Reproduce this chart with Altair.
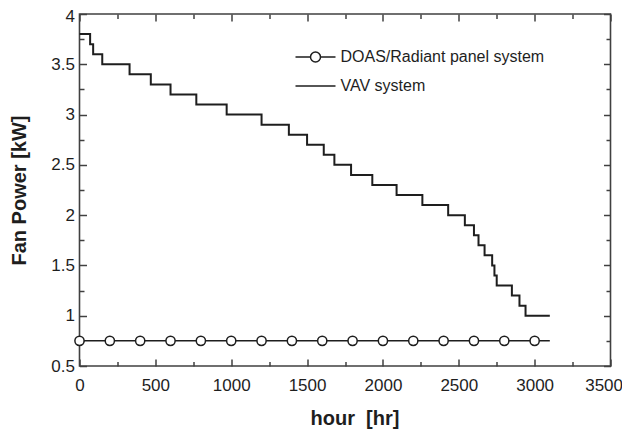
import altair as alt
import pandas as pd

# ---- data ----
vav_hours = [0, 70, 90, 150, 330, 470, 600, 770, 970, 1200, 1380, 1500, 1610, 1680,
             1790, 1930, 2090, 2260, 2430, 2540, 2600, 2630, 2670, 2720, 2735, 2750,
             2850, 2900, 2940, 3100]
vav_power = [3.8, 3.7, 3.6, 3.5, 3.4, 3.3, 3.2, 3.1, 3.0, 2.9, 2.8, 2.7, 2.6, 2.5,
             2.4, 2.3, 2.2, 2.1, 2.0, 1.9, 1.8, 1.7, 1.6, 1.5, 1.4, 1.3,
             1.2, 1.1, 1.0, 1.0]

doas_line_hours = [0, 3100]
doas_line_power = [0.75, 0.75]
doas_marker_hours = [0, 200, 400, 600, 800, 1000, 1200, 1400, 1600, 1800,
                     2000, 2200, 2400, 2600, 2800, 3000]
doas_marker_power = [0.75, 0.75, 0.75, 0.75, 0.75, 0.75, 0.75, 0.75, 0.75, 0.75,
                     0.75, 0.75, 0.75, 0.75, 0.75, 0.75]

series_names = ["DOAS/Radiant panel system", "VAV system"]

x_major = [0, 500, 1000, 1500, 2000, 2500, 3000, 3500]
x_minor = [250, 750, 1250, 1750, 2250, 2750, 3250]
y_major = [0.5, 1, 1.5, 2, 2.5, 3, 3.5, 4]
y_minor = [0.75, 1.25, 1.75, 2.25, 2.75, 3.25, 3.75]

x_title = "hour \u00a0[hr]"
y_title = "Fan Power [kW]"

vav_df = pd.DataFrame({"hour": vav_hours, "power": vav_power})
doas_line_df = pd.DataFrame({"hour": doas_line_hours, "power": doas_line_power})
doas_pts_df = pd.DataFrame({"hour": doas_marker_hours, "power": doas_marker_power})
legend_df = pd.DataFrame({"hour": doas_line_hours, "power": doas_line_power,
                          "series": series_names})

FONT = "Liberation Sans"
INK = "#1e1e1e"
FRAME = "#404040"
MAJ = 7
MIN = 4.5

xscale = alt.Scale(domain=[0, 3500], nice=False, zero=False)
yscale = alt.Scale(domain=[0.5, 4], nice=False, zero=False)


def tick_axis(orient, values, size, **kw):
    return alt.Axis(orient=orient, values=values, tickSize=size, offset=-size,
                    domain=False, grid=False, tickColor=FRAME, tickWidth=1.5,
                    **kw)


last_x = "datum.value == 3500"
top_y = "datum.value == 4"
bottom_major = tick_axis("bottom", x_major, MAJ, format="d", labelFont=FONT,
                         labelFontSize=17, labelColor=INK, labelPadding=11,
                         labelFlush=False, labelOverlap=False,
                         labelAlign={"condition": {"test": last_x, "value": "right"},
                                     "value": "center"},
                         labelOffset={"condition": {"test": last_x, "value": 12},
                                      "value": 0},
                         title=x_title, titleFont=FONT, titleFontSize=20,
                         titleFontWeight="bold", titleColor=INK,
                         titlePadding=15, titleX=275)
left_major = tick_axis("left", y_major, MAJ, format="~g", labelFont=FONT,
                       labelFontSize=17, labelColor=INK, labelPadding=5,
                       labelFlush=False, labelOverlap=False,
                       labelOffset={"condition": {"test": top_y, "value": 2},
                                    "value": 0},
                       title=y_title, titleFont=FONT, titleFontSize=20,
                       titleFontWeight="bold", titleColor=INK, titlePadding=21)
bottom_minor = tick_axis("bottom", x_minor, MIN, labels=False, title=None)
left_minor = tick_axis("left", y_minor, MIN, labels=False, title=None)
top_major = tick_axis("top", x_major, MAJ, labels=False, title=None)
right_major = tick_axis("right", y_major, MAJ, labels=False, title=None)
top_minor = tick_axis("top", x_minor, MIN, labels=False, title=None)
right_minor = tick_axis("right", y_minor, MIN, labels=False, title=None)

path_doas = ("M-1,0H-0.25M0.25,0H1M-0.25,0A0.25,0.25 0 1,1 0.25,0"
             "A0.25,0.25 0 1,1 -0.25,0Z")
path_vav = "M-1,0H1"

vav = alt.Chart(vav_df).mark_line(interpolate="step-after", color=INK,
                                  strokeWidth=2).encode(
    x=alt.X("hour:Q", scale=xscale, axis=bottom_major),
    y=alt.Y("power:Q", scale=yscale, axis=left_major),
)

doas_line = alt.Chart(doas_line_df).mark_line(color=INK, strokeWidth=1.5).encode(
    x=alt.X("hour:Q", scale=xscale, axis=bottom_minor),
    y=alt.Y("power:Q", scale=yscale, axis=left_minor),
)

doas_pts = alt.Chart(doas_pts_df).mark_point(
    shape="circle", size=85, filled=True, fill="white", stroke=INK,
    strokeWidth=1.5, opacity=1).encode(
    x=alt.X("hour:Q", scale=xscale, axis=top_major),
    y=alt.Y("power:Q", scale=yscale, axis=right_major),
)

legend_layer = alt.Chart(legend_df).mark_point(opacity=0, filled=False).encode(
    x=alt.X("hour:Q", scale=xscale, axis=top_minor),
    y=alt.Y("power:Q", scale=yscale, axis=right_minor),
    shape=alt.Shape("series:N",
                    scale=alt.Scale(domain=series_names, range=[path_doas, path_vav]),
                    legend=alt.Legend(title=None, orient="none", legendX=215,
                                      legendY=22, labelFont=FONT, labelFontSize=16,
                                      labelColor=INK, labelLimit=400,
                                      symbolSize=1600, rowPadding=-7,
                                      symbolStrokeColor=INK, symbolStrokeWidth=1.5,
                                      symbolFillColor="white", symbolOpacity=1,
                                      labelOffset=4)),
)

chart = alt.layer(vav, doas_line, doas_pts, legend_layer).resolve_scale(
    x="independent", y="independent").resolve_axis(
    x="independent", y="independent").properties(
    width=531, height=352,
    autosize=alt.AutoSizeParams(type="none"),
    padding={"left": 71.5, "top": 6, "right": 11.5, "bottom": 63},
    background="white",
).configure_view(stroke=FRAME, strokeWidth=1.6)

chart.save("out.html", embed_options={"renderer": "svg", "actions": False})
